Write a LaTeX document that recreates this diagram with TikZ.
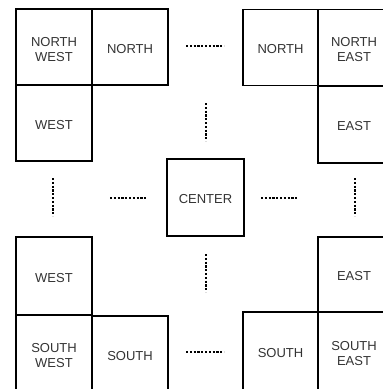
\documentclass[tikz,border=0pt]{standalone}
\usepackage{fontspec}
\setmainfont{Liberation Sans}
\begin{document}
\begin{tikzpicture}[x=1pt,y=-1pt,
  box/.style={draw=black,line width=1.2pt,minimum width=76pt,minimum height=76pt,inner sep=0pt,outer sep=0pt},
  lbl/.style={text=black!80,font=\fontsize{13}{15}\selectfont,align=center,inner sep=0pt},
  dots/.style={line width=2.2pt,dash pattern=on 2.2pt off 1.6pt,black}]
\useasboundingbox (0,0) rectangle (383,389);
\begin{scope}
\clip (0,0) rectangle (383,389);
% top-left group
\node[box] (nw) at (54,47) {};
\node[box] (n1) at (130,47) {};
\node[box] (w1) at (54,123) {};
% top-right group
\node[box,minimum width=75pt] (n2) at (280.5,47.5) {};
\node[box,minimum width=90pt] (ne) at (363,47.5) {};
\node[box,minimum width=90pt,minimum height=77pt] (e1) at (363,124.5) {};
% center
\node[box,minimum width=77pt,minimum height=77pt] (c) at (205.5,197.5) {};
% bottom-left group
\node[box,minimum height=78pt] (w2) at (54,276) {};
\node[box,minimum height=90pt] (sw) at (54,360) {};
\node[box,minimum height=90pt] (s1) at (130,361) {};
% bottom-right group
\node[box,minimum width=90pt,minimum height=75pt] (e2) at (363,274.5) {};
\node[box,minimum width=75pt,minimum height=90pt] (s2) at (280.5,357) {};
\node[box,minimum width=90pt,minimum height=90pt] (se) at (363,357) {};
\end{scope}
% labels
\node[lbl,yshift=-2.5pt] at (nw) {NORTH\\WEST};
\node[lbl,yshift=-2pt] at (n1) {NORTH};
\node[lbl,yshift=-2pt] at (w1) {WEST};
\node[lbl,yshift=-2pt] at (n2) {NORTH};
\node[lbl,yshift=-2.5pt] at (354,47.5) {NORTH\\EAST};
\node[lbl,yshift=-2pt] at (354,124.5) {EAST};
\node[lbl,yshift=-2pt] at (c) {CENTER};
\node[lbl,yshift=-2pt] at (w2) {WEST};
\node[lbl,yshift=-2.5pt] at (54,353) {SOUTH\\WEST};
\node[lbl,yshift=-2pt] at (130,354) {SOUTH};
\node[lbl,yshift=-2pt] at (354,274.5) {EAST};
\node[lbl,yshift=-2pt] at (280.5,351) {SOUTH};
\node[lbl,yshift=-2.5pt] at (354,351) {SOUTH\\EAST};
% ellipsis dots
\coordinate (th1) at (186,46);  \coordinate (th2) at (224,46);
\coordinate (bh1) at (186,352); \coordinate (bh2) at (224,352);
\coordinate (lh1) at (110,198); \coordinate (lh2) at (147,198);
\coordinate (rh1) at (261,198); \coordinate (rh2) at (298,198);
\coordinate (tv1) at (206,103); \coordinate (tv2) at (206,141);
\coordinate (bv1) at (206,254); \coordinate (bv2) at (206,292);
\coordinate (lv1) at (53,178);  \coordinate (lv2) at (53,216);
\coordinate (rv1) at (355,178); \coordinate (rv2) at (355,216);
\draw[dots] (th1) -- (th2);
\draw[dots] (bh1) -- (bh2);
\draw[dots] (lh1) -- (lh2);
\draw[dots] (rh1) -- (rh2);
\draw[dots] (tv1) -- (tv2);
\draw[dots] (bv1) -- (bv2);
\draw[dots] (lv1) -- (lv2);
\draw[dots] (rv1) -- (rv2);
\end{tikzpicture}
\end{document}
